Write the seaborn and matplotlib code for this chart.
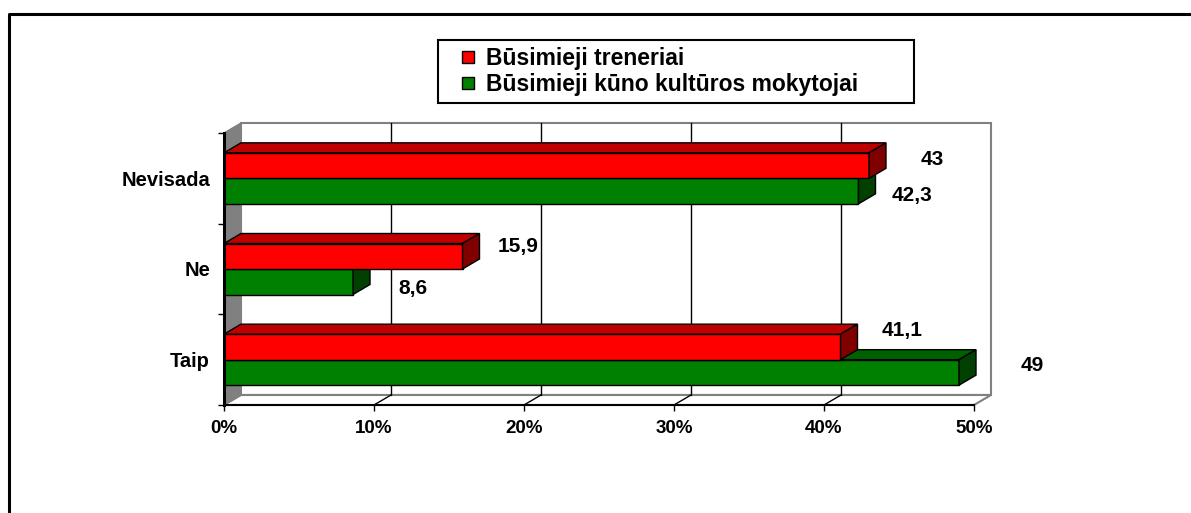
import numpy as np
import pandas as pd
import seaborn as sns
import matplotlib.pyplot as plt
from matplotlib.patches import Polygon, Rectangle
from matplotlib.lines import Line2D

## data
categories = ['Nevisada', 'Ne', 'Taip']
series = ['Būsimieji treneriai', 'Būsimieji kūno kultūros mokytojai']
treneriai = [43, 15.9, 41.1]
mokytojai = [42.3, 8.6, 49]
x_ticks = [0, 10, 20, 30, 40, 50]
x_ticklabels = ['0%', '10%', '20%', '30%', '40%', '50%']

## label nudges from the bar end (px right, px up) - placed by hand in the original
nudge = {series[0]: [(63, 6), (56, 10), (62, 16)],
         series[1]: [(54, -4), (60, -7), (73, 7)]}

colors = {series[0]: '#FF0000', series[1]: '#008000'}
grey = '#808080'
DEPTH = np.array([17, 10])  # 3d depth, px right / px up

df = pd.DataFrame({
    'Kategorija': categories * 2,
    'Procentai': treneriai + mokytojai,
    'Grupe': [series[0]] * len(categories) + [series[1]] * len(categories),
})

## plot
sns.set_style('white')
plt.rcParams['font.family'] = ['Liberation Sans', 'DejaVu Sans']
plt.rcParams.update({
    'font.weight': 'bold',
    'text.color': 'black',
    'axes.labelcolor': 'black',
    'xtick.color': 'black',
    'ytick.color': 'black',
})

W, H = 1191, 513
fig = plt.figure(figsize=(W / 100, H / 100), dpi=100)
ax = fig.add_axes([224 / W, (H - 405) / H, 750 / W, 272 / H])
ax.patch.set_visible(False)

sns.barplot(data=df, y='Kategorija', x='Procentai', hue='Grupe',
            order=categories, hue_order=series, palette=colors,
            saturation=1, width=0.5625, errorbar=None,
            edgecolor='black', linewidth=1, orient='h',
            legend=False, ax=ax)

ax.set_xlim(0, 50)
ax.set_ylim(len(categories) - 0.5, -0.5)
ax.set_autoscale_on(False)
ax.set_xlabel('')
ax.set_ylabel('')

# depth offset in data units
origin = ax.transData.transform((0, 0))
ddx, ddy = ax.transData.inverted().transform(origin + DEPTH)

y_top, y_bot = -0.5, len(categories) - 0.5
x_max = x_ticks[-1]

# back wall, floor, left wall
ax.add_patch(Polygon([(ddx, y_top + ddy), (x_max + ddx, y_top + ddy),
                      (x_max + ddx, y_bot + ddy), (ddx, y_bot + ddy)],
                     fc='white', ec=grey, lw=1.5, zorder=0.5, clip_on=False))
ax.add_patch(Polygon([(0, y_bot), (x_max, y_bot), (x_max + ddx, y_bot + ddy), (ddx, y_bot + ddy)],
                     fc='white', ec=grey, lw=1.5, zorder=0.6, clip_on=False))
ax.add_patch(Polygon([(0, y_top), (ddx, y_top + ddy), (ddx, y_bot + ddy), (0, y_bot)],
                     fc=grey, ec=grey, lw=1, zorder=0.7, clip_on=False))

# gridlines on the back wall + floor
for x in x_ticks[1:-1]:
    ax.plot([x + ddx, x + ddx], [y_bot + ddy, y_top + ddy], color='black', lw=1, zorder=1, clip_on=False)
    ax.plot([x, x + ddx], [y_bot, y_bot + ddy], color='black', lw=1, zorder=1, clip_on=False)

# 3d faces on the bars
bar_map = {}
for bar in list(ax.patches):
    if not isinstance(bar, Rectangle):
        continue
    fc = np.array(bar.get_facecolor()[:3])
    hue = series[0] if fc[0] > 0.5 else series[1]
    z = 4 if hue == series[0] else 3
    x0 = bar.get_x()
    x1 = x0 + bar.get_width()
    ya, yb = bar.get_y(), bar.get_y() + bar.get_height()
    yt, ybt = min(ya, yb), max(ya, yb)
    ax.add_patch(Polygon([(x0, yt), (x1, yt), (x1 + ddx, yt + ddy), (x0 + ddx, yt + ddy)],
                         fc=fc * 0.75, ec='black', lw=1, zorder=z, clip_on=False))
    ax.add_patch(Polygon([(x1, yt), (x1, ybt), (x1 + ddx, ybt + ddy), (x1 + ddx, yt + ddy)],
                         fc=fc * 0.5, ec='black', lw=1, zorder=z, clip_on=False))
    bar.set_zorder(z)
    bar.set_clip_on(False)
    cat = int(round((yt + ybt) / 2))
    bar_map[(hue, cat)] = (x1, (yt + ybt) / 2)

# value labels
for s, vals in zip(series, [treneriai, mokytojai]):
    for i, v in enumerate(vals):
        x1, yc = bar_map[(s, i)]
        dx, dy = nudge[s][i]
        ax.annotate(f'{v:g}'.replace('.', ','), xy=(x1, yc), xytext=(dx, dy),
                    textcoords='offset pixels', ha='center', va='center',
                    fontsize=15, fontweight='bold', color='black', zorder=7)

# axes
for side in ['top', 'right']:
    ax.spines[side].set_visible(False)
ax.spines['left'].set_linewidth(2.2)
ax.spines['bottom'].set_linewidth(1.5)
for side in ['left', 'bottom']:
    ax.spines[side].set_color('black')
    ax.spines[side].set_zorder(6)

ax.set_xticks(x_ticks, labels=x_ticklabels)
ax.tick_params(axis='x', direction='out', length=4, width=1, color='black',
               labelcolor='black', pad=7, labelsize=13.5, bottom=True)
ax.set_yticks([y_top + k for k in range(len(categories) + 1)], labels=[])
ax.set_yticks(range(len(categories)), labels=categories, minor=True)
ax.tick_params(axis='y', which='major', direction='out', length=4.5, width=1,
               color='black', left=True)
ax.tick_params(axis='y', which='minor', length=0, pad=10, labelsize=14.5,
               labelcolor='black', left=True)

# legend, stretched to the box of the original
handles = [Line2D([], [], marker='s', ls='none', markersize=8,
                  markerfacecolor=colors[s], markeredgecolor='black', markeredgewidth=1)
           for s in series]
leg = fig.legend(handles, series, loc='upper left',
                 bbox_to_anchor=(438 / W, 1 - 40 / H, 476 / W, 0.0001), mode='expand',
                 borderaxespad=0, frameon=True, fancybox=False, edgecolor='black',
                 framealpha=1, prop={'weight': 'bold', 'size': 16.5}, handlelength=2.0,
                 handletextpad=-0.2, borderpad=0.3, labelspacing=0.15)
leg.get_frame().set_linewidth(1.5)
for t in leg.get_texts():
    t.set_color('black')

# outer frame
fig.add_artist(Line2D([8.5 / W, 8.5 / W, 1], [0, 1 - 13.5 / H, 1 - 13.5 / H],
                      color='black', lw=2.2, transform=fig.transFigure))

fig.savefig('out.png', dpi=100)
